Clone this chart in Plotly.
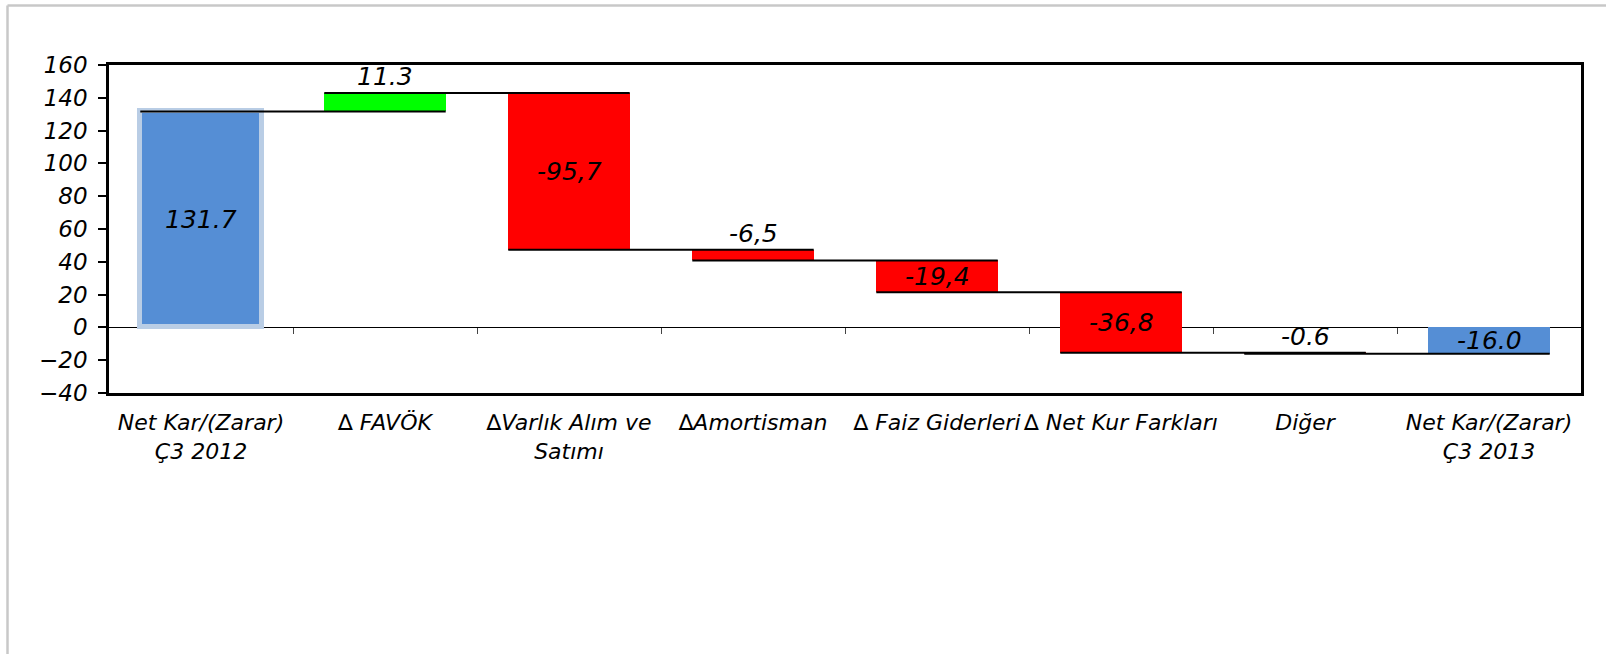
import plotly.graph_objects as go

# waterfall data (mn TL)
labels = [
    "<i>Net Kar/(Zarar)</i><br><i>Ç3 2012</i>",
    "∆ <i>FAVÖK</i>",
    "∆<i>Varlık Alım ve</i><br><i>Satımı</i>",
    "∆<i>Amortisman</i>",
    "∆ <i>Faiz Giderleri</i>",
    "∆ <i>Net Kur Farkları</i>",
    "<i>Diğer</i>",
    "<i>Net Kar/(Zarar)</i><br><i>Ç3 2013</i>",
]
measures = ["total", "relative", "relative", "relative", "relative", "relative", "relative", "total"]
values = [131.7, 11.3, -95.7, -6.5, -19.4, -36.8, -0.6, -16.0]
value_text = ["131.7", "11.3", "-95,7", "-6,5", "-19,4", "-36,8", "-0.6", "-16.0"]

BLUE = "#558ED5"
HALO = "#B9CDE5"
GREEN = "#00FF00"
RED = "#FF0000"
FONT = "DejaVu Sans"
BAR_W = 0.66

# floating bar bases from the running total
bases, heights, ends, colors = [], [], [], []
running = 0.0
for v, m in zip(values, measures):
    if m == "total":
        bases.append(0.0)
        heights.append(v)
        running = v
        colors.append(BLUE)
    else:
        bases.append(running)
        heights.append(v)
        running += v
        colors.append(GREEN if v > 0 else RED)
    ends.append(running)

xs = list(range(len(values)))

fig = go.Figure()

fig.add_trace(go.Bar(
    x=xs,
    y=heights,
    base=bases,
    width=BAR_W,
    marker=dict(
        color=colors,
        line=dict(
            color=[HALO] + ["rgba(0,0,0,0)"] * (len(values) - 1),
            width=[5] + [0] * (len(values) - 1),
        ),
    ),
    showlegend=False,
    hoverinfo="skip",
))

# step connectors: from left edge of a bar to right edge of the next one
for i in range(len(values) - 1):
    fig.add_trace(go.Scatter(
        x=[xs[i] - BAR_W / 2, xs[i + 1] + BAR_W / 2],
        y=[ends[i], ends[i]],
        mode="lines",
        line=dict(color="black", width=2),
        showlegend=False,
        hoverinfo="skip",
    ))

# value labels
for i, (b, h, t) in enumerate(zip(bases, heights, value_text)):
    if abs(h) < 15:
        fig.add_annotation(
            x=xs[i], y=max(b, b + h), text=t, showarrow=False,
            yanchor="bottom", yshift=0,
            font=dict(family=FONT, size=25, color="black", style="italic"),
        )
    else:
        fig.add_annotation(
            x=xs[i], y=b + h / 2, text=t, showarrow=False,
            yanchor="middle",
            font=dict(family=FONT, size=25, color="black", style="italic"),
        )

# tick marks on the zero line between categories
fig.add_trace(go.Scatter(x=[None], y=[None], xaxis="x2", yaxis="y", showlegend=False))

# light grey outer frame, only left and top edges are inside the picture
fx0 = (7.5 - 109) / 1472
fy1 = 1 + (65 - 5.5) / 328
frame = dict(color="#C8C8C8", width=2.5)
fig.add_shape(type="line", xref="paper", yref="paper",
              x0=fx0, x1=fx0, y0=-0.9, y1=fy1, line=frame, layer="below")
fig.add_shape(type="line", xref="paper", yref="paper",
              x0=fx0, x1=1.05, y0=fy1, y1=fy1, line=frame, layer="below")

fig.update_layout(
    width=1606,
    height=654,
    margin=dict(l=109, r=25, t=65, b=261),
    paper_bgcolor="white",
    plot_bgcolor="white",
    font=dict(family=FONT, color="black"),
    bargap=0,
    xaxis=dict(
        range=[-0.5, len(values) - 0.5],
        tickvals=xs,
        ticktext=labels,
        tickfont=dict(family=FONT, size=22, color="black"),
        ticks="",
        ticklabelstandoff=8,
        showgrid=False,
        zeroline=False,
        showline=True,
        mirror=True,
        linecolor="black",
        linewidth=2.5,
    ),
    xaxis2=dict(
        overlaying="x",
        anchor="free",
        position=0.2,
        range=[-0.5, len(values) - 0.5],
        tickvals=[i + 0.5 for i in xs[:-1]],
        ticks="outside",
        ticklen=6,
        tickwidth=1,
        tickcolor="#444444",
        showticklabels=False,
        showgrid=False,
        zeroline=False,
        showline=False,
    ),
    yaxis=dict(
        range=[-40, 160],
        dtick=20,
        tickfont=dict(family=FONT, size=23, color="black", style="italic"),
        ticks="outside",
        ticklen=8,
        tickwidth=1.5,
        tickcolor="black",
        ticklabelstandoff=6,
        showgrid=False,
        zeroline=True,
        zerolinecolor="black",
        zerolinewidth=1,
        showline=True,
        mirror=True,
        linecolor="black",
        linewidth=2.5,
    ),
)

fig.write_html(
    "out.html",
    config=dict(displayModeBar=False),
    post_script=(
        "document.body.style.margin='0px';"
        "document.body.style.overflow='hidden';"
        "document.documentElement.style.overflow='hidden';"
    ),
)
